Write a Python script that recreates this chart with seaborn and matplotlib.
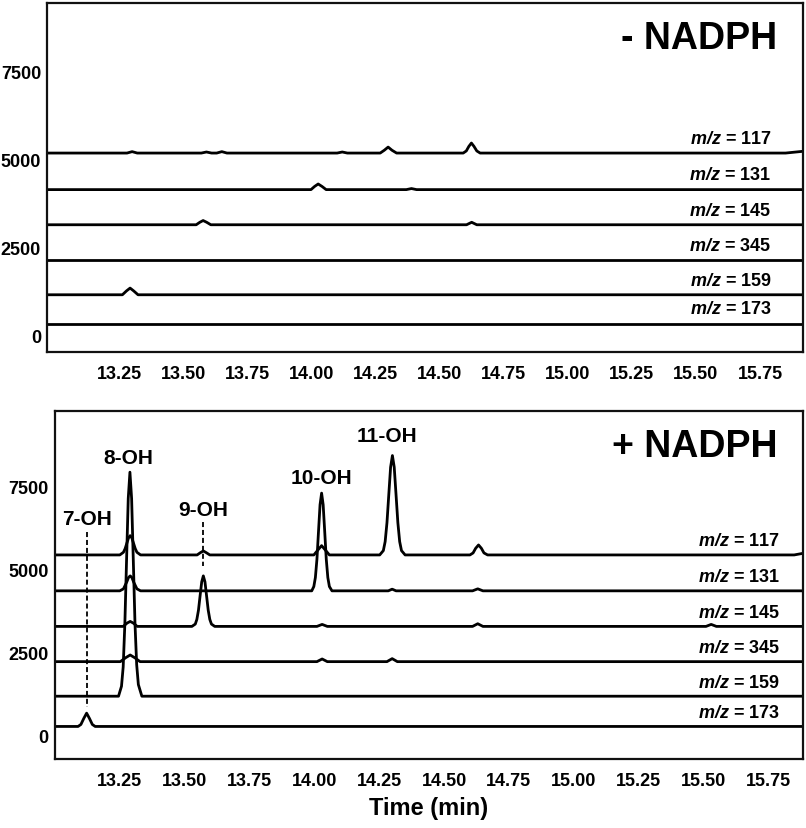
import numpy as np
import pandas as pd
import matplotlib
matplotlib.use("Agg")
import matplotlib.pyplot as plt
from matplotlib.ticker import MultipleLocator, FixedLocator
import seaborn as sns

# ion traces, top to bottom
ions = ["117", "131", "145", "345", "159", "173"]

# ---- - NADPH (top panel): baseline level of each trace ----
minus_offsets = [5180, 4140, 3140, 2140, 1148, 330]

minus_117_t = [12.969, 13.28, 13.30, 13.32, 13.57, 13.59, 13.61, 13.63, 13.65, 13.67,
               14.10, 14.12, 14.14, 14.268, 14.284, 14.299, 14.314, 14.332,
               14.592, 14.604, 14.614, 14.624, 14.634, 14.645, 14.658, 15.85, 15.918]
minus_117_y = [0, 0, 40, 0, 0, 30, 0, 0, 40, 0,
               0, 30, 0, 0, 80, 170, 80, 0,
               0, 60, 190, 285, 190, 60, 0, 0, 50]

minus_131_t = [12.969, 13.998, 14.012, 14.026, 14.041, 14.057, 14.37, 14.39, 14.41, 15.918]
minus_131_y = [0, 0, 90, 160, 90, 0, 0, 30, 0, 0]

minus_145_t = [12.969, 13.550, 13.564, 13.577, 13.591, 13.607, 14.605, 14.625, 14.645, 15.918]
minus_145_y = [0, 0, 70, 120, 70, 0, 0, 70, 0, 0]

minus_345_t = [12.969, 15.918]
minus_345_y = [0, 0]

minus_159_t = [12.969, 13.262, 13.278, 13.292, 13.306, 13.323, 15.918]
minus_159_y = [0, 0, 110, 190, 110, 0, 0]

minus_173_t = [12.969, 15.918]
minus_173_y = [0, 0]

# ---- + NADPH (bottom panel) ----
plus_offsets = [5440, 4360, 3290, 2230, 1190, 280]

plus_117_t = [13.0, 13.25, 13.264, 13.2705, 13.277, 13.2835, 13.290, 13.2965, 13.303, 13.3095, 13.316, 13.33,
              13.548, 13.561, 13.572, 13.583, 13.597,
              13.998, 14.015, 14.028, 14.041, 14.058,
              14.252, 14.266, 14.273, 14.280, 14.287, 14.294, 14.301, 14.308, 14.315, 14.322, 14.329, 14.336, 14.35,
              14.600, 14.612, 14.622, 14.633, 14.644, 14.654, 14.668, 15.85, 15.885]
plus_117_y = [0, 0, 80, 190, 350, 510, 580, 510, 350, 190, 80, 0,
              0, 70, 120, 70, 0,
              0, 160, 280, 160, 0,
              0, 130, 400, 970, 1810, 2640, 2990, 2640, 1810, 970, 400, 130, 0,
              0, 60, 200, 300, 200, 60, 0, 0, 50]

plus_131_t = [13.0, 13.25, 13.264, 13.277, 13.2835, 13.290, 13.2965, 13.303, 13.316, 13.33,
              13.990, 13.998, 14.004, 14.010, 14.016, 14.022, 14.028, 14.034, 14.040, 14.046, 14.052, 14.058, 14.068,
              14.285, 14.30, 14.315, 14.61, 14.63, 14.65, 15.885]
plus_131_y = [0, 0, 60, 270, 400, 450, 400, 270, 60, 0,
              0, 130, 400, 950, 1780, 2590, 2940, 2590, 1780, 950, 400, 130, 0,
              0, 50, 0, 0, 60, 0, 0]

plus_145_t = [13.0, 13.263, 13.278, 13.29, 13.302, 13.317,
              13.528, 13.541, 13.547, 13.5533, 13.5595, 13.5658, 13.572, 13.5783, 13.5845, 13.5908, 13.597, 13.6033,
              13.616,
              14.01, 14.03, 14.05, 14.61, 14.63, 14.65, 15.51, 15.53, 15.55, 15.885]
plus_145_y = [0, 0, 100, 150, 100, 0,
              0, 70, 210, 490, 920, 1340, 1520, 1340, 920, 490, 210, 70,
              0,
              0, 60, 0, 0, 80, 0, 0, 60, 0, 0]

plus_345_t = [13.0, 13.252, 13.273, 13.29, 13.307, 13.328, 14.01, 14.03, 14.05, 14.28, 14.30, 14.32, 15.885]
plus_345_y = [0, 0, 120, 200, 120, 0, 0, 80, 0, 0, 90, 0, 0]

plus_159_t = [13.0, 13.245, 13.2565, 13.263, 13.2695, 13.276, 13.2825, 13.289, 13.2955, 13.302, 13.3085,
              13.315, 13.3215, 13.335, 15.885]
plus_159_y = [0, 0, 300, 880, 2190, 4090, 5950, 6740, 5950, 4090, 2190, 950, 350, 0, 0]

plus_173_t = [13.0, 13.089, 13.100, 13.111, 13.122, 13.133, 13.144, 13.155, 15.885]
plus_173_y = [0, 0, 60, 240, 400, 240, 60, 0, 0]

# peak assignments in the + NADPH panel
peak_names = ["7-OH", "8-OH", "9-OH", "10-OH", "11-OH"]
peak_times = [13.122, 13.289, 13.572, 14.028, 14.301]

yticks = [0, 2500, 5000, 7500]
xticks = [13.25, 13.50, 13.75, 14.00, 14.25, 14.50, 14.75, 15.00, 15.25, 15.50, 15.75]


def build_frame(prefix, offsets):
    rows = []
    for ion, off in zip(ions, offsets):
        t = globals()[f"{prefix}_{ion}_t"]
        y = globals()[f"{prefix}_{ion}_y"]
        for ti, yi in zip(t, y):
            rows.append({"ion": ion, "time": ti, "intensity": off + yi})
    return pd.DataFrame(rows)


def style_axis(ax, xlim, ylim):
    ax.set_xlim(*xlim)
    ax.set_ylim(*ylim)
    ax.xaxis.set_major_locator(FixedLocator(xticks))
    ax.xaxis.set_minor_locator(MultipleLocator(0.05))
    ax.set_xticklabels([f"{v:.2f}" for v in xticks])
    ax.set_yticks(yticks)
    ax.set_yticklabels([str(v) for v in yticks])
    ax.tick_params(axis="x", which="both", direction="out", length=3.5, width=0.8,
                   color="#777777", labelcolor="black", pad=6, labelsize=13)
    ax.tick_params(axis="y", which="both", direction="in", length=3, width=0.8,
                   color="#777777", labelcolor="black", pad=4.5, labelsize=13)
    for lab in ax.get_xticklabels() + ax.get_yticklabels():
        lab.set_fontweight("bold")
    for sp in ax.spines.values():
        sp.set_visible(True)
        sp.set_linewidth(1.6)
        sp.set_color("#111111")
    ax.set_xlabel("")
    ax.set_ylabel("")


def draw_panel(ax, df, offsets, title, xlim, ylim):
    sns.lineplot(data=df, x="time", y="intensity", units="ion", estimator=None,
                 sort=False, color="black", linewidth=2.0, legend=False, ax=ax)
    style_axis(ax, xlim, ylim)
    for ion, off in zip(ions, offsets):
        ax.text(15.795, off + 290, r"$\mathbfit{m/z}$ = " + ion, ha="right", va="baseline",
                fontsize=13, fontweight="bold", color="black")
    ax.text(0.966, 0.90, title, transform=ax.transAxes, ha="right", va="center",
            fontsize=27, fontweight="bold", color="black")


def main():
    sns.set_theme(style="white")
    plt.rcParams["font.family"] = ["Liberation Sans", "DejaVu Sans"]
    plt.rcParams["text.color"] = "black"
    plt.rcParams["mathtext.fontset"] = "custom"
    plt.rcParams["mathtext.rm"] = "Liberation Sans"
    plt.rcParams["mathtext.it"] = "Liberation Sans:italic"
    plt.rcParams["mathtext.bf"] = "Liberation Sans:bold"
    plt.rcParams["mathtext.bfit"] = "Liberation Sans:italic:bold"

    fig = plt.figure(figsize=(8.06, 8.29), dpi=100)
    ax_top = fig.add_axes([0.0587, 0.5742, 0.9376, 0.421])
    ax_bot = fig.add_axes([0.0682, 0.0832, 0.9284, 0.4198])

    draw_panel(ax_top, build_frame("minus", minus_offsets), minus_offsets, "- NADPH",
               (12.969, 15.918), (-480, 9450))
    draw_panel(ax_bot, build_frame("plus", plus_offsets), plus_offsets, "+ NADPH",
               (13.0, 15.885), (-700, 9770))

    # peak labels
    label_y = [6550, 8385, 6820, 7783, 9025]
    label_x = [peak_times[0], 13.282, peak_times[2], peak_times[3], 14.28]
    for name, x, y in zip(peak_names, label_x, label_y):
        ax_bot.text(x, y, name, ha="center", va="center", fontsize=15, fontweight="bold", color="black")
    # dashed guides for the minor isomers
    ax_bot.plot([peak_times[0]] * 2, [6128, 863], color="black", lw=1.3, ls=(0, (2.8, 1.6)))
    ax_bot.plot([peak_times[2]] * 2, [6429, 5105], color="black", lw=1.3, ls=(0, (2.8, 1.6)))

    fig.text(0.532, 0.0253, "Time (min)", ha="center", va="center", fontsize=17,
             fontweight="bold", color="black")

    fig.savefig("out.png", dpi=100)


if __name__ == "__main__":
    main()
